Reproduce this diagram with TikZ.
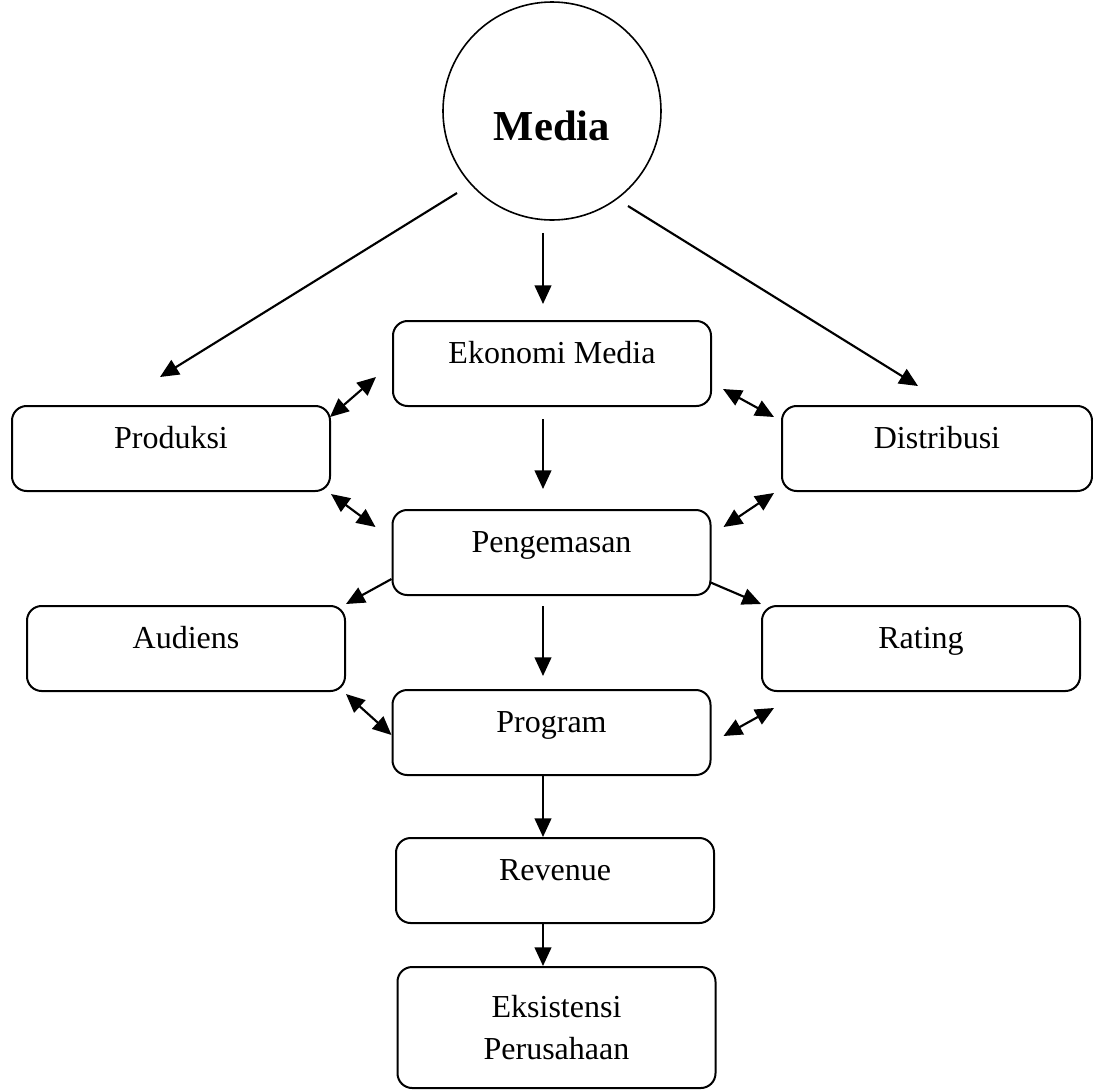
\documentclass[tikz,border=0pt]{standalone}
\usepackage{fontspec}
\setmainfont{Liberation Serif}
\usepackage{tikz}
\usetikzlibrary{arrows.meta}
\newcommand{\oneway}[2]{
  \draw [-{Triangle[length=14pt,width=12.5pt]},line width=1.6pt] (#1) -- (#2)
}
\newcommand{\twoway}[2]{
  \draw [{Triangle[length=14pt,width=12.5pt]}-{Triangle[length=14pt,width=12.5pt]},line width=1.6pt] (#1) -- (#2)
}
\tikzset{
  card/.style={draw, rounded corners=11pt, line width=1.5pt, minimum width=238.5pt,
    minimum height=63.75pt, font=\fontsize{24pt}{31.5pt}\selectfont},
  oneline/.style={card, text height=6pt, text depth=6pt}
}

\begin{document}
\begin{tikzpicture}[x=0.75pt,y=-0.75pt]
\useasboundingbox (0,0) rectangle (1093,1090);

% root
\node (media) [circle, draw, line width=1.2pt, minimum size=163.5pt, text height=43.5pt,
  text depth=0pt, font=\bfseries\fontsize{32pt}{38pt}\selectfont] at (552,111) {Media};

% middle column
\node (ekonomi) [oneline] at (552,363.5) {Ekonomi Media};
\node (kemas) [oneline] at (551.5,552.5) {Pengemasan};
\node (program) [oneline] at (551.5,732.5) {Program};
\node (revenue) [oneline] at (555,880.5) {Revenue};
\node (eksistensi) [card, align=center, minimum height=90.75pt] at (556.5,1027.5) {Eksistensi\\Perusahaan};

% left side
\node (produksi) [oneline] at (171,448.5) {Produksi};
\node (audiens) [oneline] at (186,648.5) {Audiens};

% right side
\node (distribusi) [oneline, minimum width=232.5pt] at (937,448.5) {Distribusi};
\node (rating) [oneline] at (921,648.5) {Rating};

% from Media
\oneway {[shift={(-95,82)}]media.center} {[shift={(-11,-28)}]produksi.north};
\oneway {[shift={(-9,12)}]media.south} {[shift={(-9,-16)}]ekonomi.north};
\oneway {[shift={(76,95)}]media.center} {[shift={(-19,-19)}]distribusi.north};

% around Ekonomi Media
\twoway {[shift={(-16,13.5)}]ekonomi.west} {[shift={(-1,12)}]produksi.north east};
\twoway {[shift={(11,25.5)}]ekonomi.east} {[shift={(-7,12)}]distribusi.north west};
\oneway {[shift={(-9,12)}]ekonomi.south} {[shift={(-8.5,-20)}]kemas.north};

% around Pengemasan
\twoway {[shift={(0,2)}]produksi.south east} {[shift={(-16,-25.5)}]kemas.west};
\twoway {[shift={(-7,1)}]distribusi.south west} {[shift={(12,-25.5)}]kemas.east};
\oneway {[shift={(0,26.5)}]kemas.west} {[shift={(0,-1)}]audiens.north east};
\oneway {[shift={(-2,29.5)}]kemas.east} {[shift={(0,-1)}]rating.north west};
\oneway {[shift={(-8.5,10)}]kemas.south} {[shift={(-8.5,-13)}]program.north};

% around Program
\twoway {[shift={(0,2)}]audiens.south east} {[shift={(0,2.5)}]program.west};
\twoway {[shift={(12,3.5)}]program.east} {[shift={(13,16)}]rating.south west};
\oneway {[shift={(-8.5,0)}]program.south} {[shift={(-12,0)}]revenue.north};
\oneway {[shift={(-12,0)}]revenue.south} {[shift={(-13.5,0)}]eksistensi.north};

\end{tikzpicture}
\end{document}
